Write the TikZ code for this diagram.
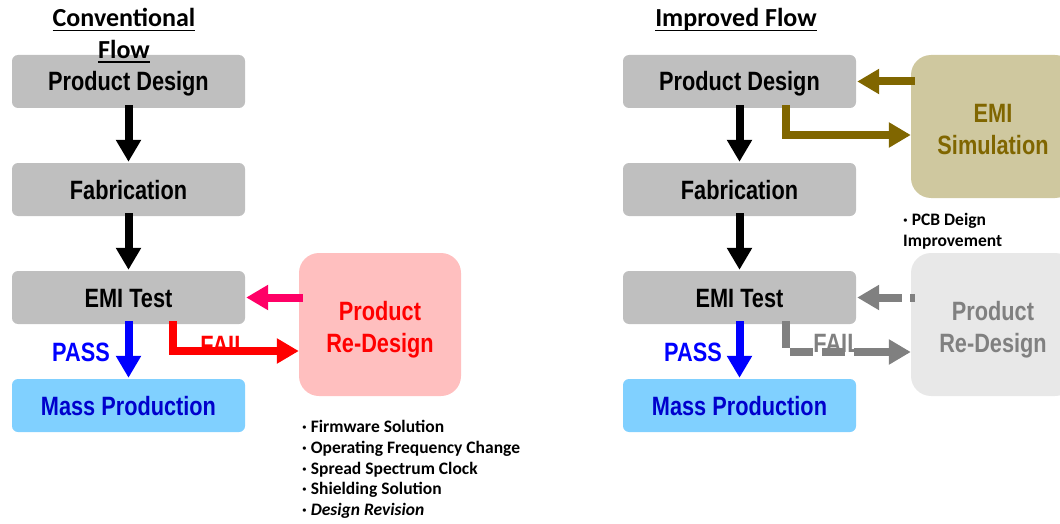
\documentclass[tikz,border=0pt]{standalone}
\usepackage{fontspec}
\setmainfont{Liberation Sans}
\newfontfamily\narrowfont[FakeStretch=0.82]{Liberation Sans}
\newfontfamily\carlito{Carlito}
\usetikzlibrary{arrows.meta}
\definecolor{boxgray}{HTML}{BFBFBF}
\definecolor{massblue}{HTML}{80D0FF}
\definecolor{pinkbox}{HTML}{FFBFBF}
\definecolor{pinkarrow}{HTML}{FF0066}
\definecolor{olive}{HTML}{806600}
\definecolor{simfill}{HTML}{CFC89F}
\definecolor{lightgray}{HTML}{E8E8E8}
\definecolor{midgray}{HTML}{808080}
\newcommand\boxfont{\narrowfont\fontsize{26.5}{32}\selectfont\bfseries}
\newcommand\titlefont{\carlito\fontsize{26}{32}\selectfont\bfseries}
\newcommand\notefont{\carlito\fontsize{17.5}{20.8}\selectfont\bfseries}
\newcommand\twolines[2]{\begin{tabular}{@{}c@{}}\rule{0pt}{34pt}#1\\#2\end{tabular}}
\begin{document}
\begin{tikzpicture}[x=1pt,y=-1pt,
  box/.style={rounded corners=6pt, fill=boxgray, minimum width=233pt, minimum height=53pt, inner sep=0pt, text height=19pt, text depth=0pt, font=\boxfont},
  bigbox/.style={rounded corners=20pt, minimum width=164pt, minimum height=143pt, inner sep=0pt, font=\boxfont},
  arr/.style={line width=8pt, line join=miter, -{Triangle[width=24pt,length=22pt]}},
  lbl/.style={font=\boxfont, inner sep=0pt},
  ttl/.style={font=\titlefont, inner sep=0pt, anchor=base},
  uline/.style={line width=1.6pt},
  note/.style={font=\notefont, inner sep=0pt, align=left, anchor=north west}]
\useasboundingbox (0,0) rectangle (1060,524);

% left column
\node[box] (pd1) at (128.5,81.5) {Product Design};
\node[box] (fab1) at (128.5,189.5) {Fabrication};
\node[box] (emi1) at (128.5,297.5) {EMI Test};
\node[box, fill=massblue, text={rgb,255:red,0;green,0;blue,204}] (mp1) at (128.5,405.5) {Mass Production};
\node[bigbox, fill=pinkbox, text=red, minimum width=162pt] (rd1) at (380,324.5) {\twolines{Product}{Re-Design}};

% right column
\node[box] (pd2) at (739.5,81.5) {Product Design};
\node[box] (fab2) at (739.5,189.5) {Fabrication};
\node[box] (emi2) at (739.5,297.5) {EMI Test};
\node[box, fill=massblue, text={rgb,255:red,0;green,0;blue,204}] (mp2) at (739.5,405.5) {Mass Production};
\node[bigbox, fill=simfill, text=olive] (sim2) at (993,126.5) {\twolines{EMI}{Simulation}};
\node[bigbox, fill=lightgray, text=midgray] (rd2) at (993,324.5) {\twolines{Product}{Re-Design}};

% titles
\node[ttl] (t1) at (124,27) {Conventional};
\node[ttl] (t2) at (124,59) {Flow};
\node[ttl] (t3) at (736,27) {Improved Flow};
\draw[uline] ([yshift=-3.5pt]t1.base west) -- ([yshift=-3.5pt]t1.base east);
\draw[uline] ([yshift=-3pt]t2.base west) -- ([yshift=-3pt]t2.base east);
\draw[uline] ([yshift=-3.5pt]t3.base west) -- ([yshift=-3.5pt]t3.base east);

% labels
\node[lbl, text=blue, anchor=base] (pass1) at (81,361.5) {PASS};
\node[lbl, text=blue, anchor=base] (pass2) at (693,361.5) {PASS};
\node[lbl, text=red, anchor=base] (fail1) at (224,354) {FAIL};
\node[lbl, text=midgray, anchor=base] (fail2) at (837,352) {FAIL};

% left arrows
\draw[arr] ([yshift=3pt]pd1.south) -- ([yshift=1pt]fab1.north);
\draw[arr] ([yshift=3pt]fab1.south) -- ([yshift=1pt]emi1.north);
\draw[arr, blue] ([yshift=3pt]emi1.south) -- ([yshift=1pt]mp1.north);
\draw[arr, pinkarrow, shorten <=-4pt] (rd1.west |- emi1.east) -- ([xshift=1pt]emi1.east);
\draw[arr, red] ([xshift=44.5pt,yshift=3pt]emi1.south) |- ([yshift=-26.5pt]rd1.west);

% right arrows
\draw[arr] ([yshift=3pt]pd2.south) -- ([yshift=1pt]fab2.north);
\draw[arr] ([yshift=3pt]fab2.south) -- ([yshift=1pt]emi2.north);
\draw[arr, blue] ([yshift=3pt]emi2.south) -- ([yshift=1pt]mp2.north);
\draw[arr, olive, shorten <=-4pt] (sim2.west |- pd2.east) -- ([xshift=1pt]pd2.east);
\draw[arr, olive] ([xshift=46.5pt,yshift=3pt]pd2.south) |- ([yshift=-8.5pt]sim2.west);
\draw[arr, midgray, shorten <=-4pt, dash pattern=on 5pt off 8pt on 40pt] (rd2.west |- emi2.east) -- ([xshift=1pt]emi2.east);
\draw[arr, midgray, dash pattern=on 27pt off 8pt on 23pt off 9pt on 23pt off 9pt on 40pt] ([xshift=46.5pt,yshift=3pt]emi2.south) |- ([yshift=-27.5pt]rd2.west);

% notes
\node[note] (n1) at (302,420) {· Firmware Solution\\· Operating Frequency Change\\· Spread Spectrum Clock\\· Shielding Solution\\· \textit{Design Revision}};
\node[note] (n2) at (903,213) {· PCB Deign\\Improvement};
\end{tikzpicture}
\end{document}
